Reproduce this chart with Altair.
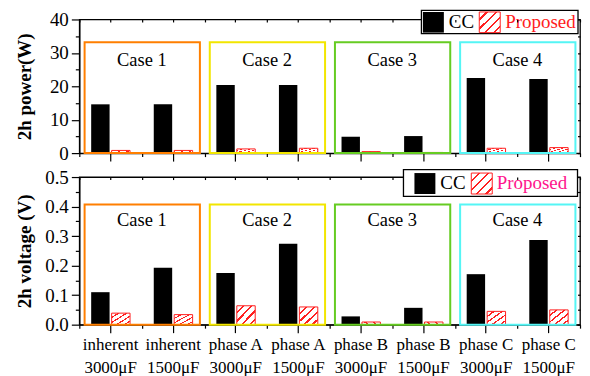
import altair as alt
import pandas as pd

# ---------------- data ----------------
CATEGORIES = ["inherent|3000μF", "inherent|1500μF", "phase A|3000μF", "phase A|1500μF",
              "phase B|3000μF", "phase B|1500μF", "phase C|3000μF", "phase C|1500μF"]
SERIES = ["CC", "Proposed"]
POWER_CC = [14.6, 14.6, 20.4, 20.4, 4.9, 5.1, 22.5, 22.2]
POWER_PROPOSED = [0.8, 0.8, 1.25, 1.45, 0.45, 0.2, 1.45, 1.65]
VOLT_CC = [0.110, 0.193, 0.175, 0.274, 0.028, 0.057, 0.171, 0.287]
VOLT_PROPOSED = [0.039, 0.034, 0.064, 0.060, 0.009, 0.009, 0.045, 0.050]
CASES = ["Case 1", "Case 2", "Case 3", "Case 4"]
CASE_COLORS = ["#ff7f00", "#f2e600", "#66cc22", "#55f5f5"]
POWER_BOX_TOP = 33.2
VOLT_BOX_TOP = 0.407
POWER_LABEL_Y = 27.9
VOLT_LABEL_Y = 0.353
POWER_TICKS = [0, 5, 10, 15, 20, 25, 30, 35, 40]
VOLT_TICKS = [0.0, 0.05, 0.1, 0.15, 0.2, 0.25, 0.3, 0.35, 0.4, 0.45, 0.5]

FONT = "Liberation Serif"
PLOT_W = 502
HATCH = alt.Gradient(
    gradient="linear", x1=0, y1=0, x2=1, y2=1,
    stops=[alt.GradientStop(offset=o, color=c) for o, c in [
        (0.0, "white"), (0.16, "white"), (0.16, "#ff2020"), (0.22, "#ff2020"), (0.22, "white"),
        (0.38, "white"), (0.38, "#ff2020"), (0.44, "#ff2020"), (0.44, "white"),
        (0.60, "white"), (0.60, "#ff2020"), (0.66, "#ff2020"), (0.66, "white"),
        (0.82, "white"), (0.82, "#ff2020"), (0.88, "#ff2020"), (0.88, "white"), (1.0, "white")]]
)

# legend layout (pixels relative to each panel's plot origin)
TOP_LEGEND = dict(box=(343, 500, -9.2, 14.2), sq1=(344.5, 365.5, -7.5, 13.2), t1=(370.5, 2.8),
                  sq2=(401, 422, -7.5, 13.2), t2=(427, 2.8), color="#ff2020")
BOTTOM_LEGEND = dict(box=(325, 499.5, -7.4, 19.3), sq1=(336, 357, -4, 17), t1=(362, 6.3),
                     sq2=(393, 414, -4, 17), t2=(418.5, 6.3), color="#ff148c")


def bar_frame(cc, prop):
    rows = []
    for i, c in enumerate(CATEGORIES):
        rows.append({"category": c, "series": "CC", "value": cc[i]})
        rows.append({"category": c, "series": "Proposed", "value": prop[i]})
    return pd.DataFrame(rows)


def case_frame(top, label_y):
    return pd.DataFrame({
        "case": CASES,
        "start": CATEGORIES[0::2],
        "end": CATEGORIES[1::2],
        "top": [top] * 4,
        "label_y": [label_y] * 4,
    })


XSCALE = alt.Scale(domain=CATEGORIES, paddingInner=0, paddingOuter=0)


def rect_at(r, **mark):
    one = alt.Data(values=[{"k": 1}])
    return alt.Chart(one).mark_rect(**mark).encode(
        x=alt.value(r[0]), x2=alt.value(r[1]), y=alt.value(r[2]), y2=alt.value(r[3]))


def text_at(p, text, color):
    one = alt.Data(values=[{"k": 1}])
    return alt.Chart(one).mark_text(text=text, align="left", baseline="middle", font=FONT,
                                    fontSize=19, color=color).encode(
        x=alt.value(p[0]), y=alt.value(p[1]))


def legend_layers(L):
    return [
        rect_at(L["box"], fill="white", stroke="black", strokeWidth=1.3),
        rect_at(L["sq1"], fill="black"),
        text_at(L["t1"], "CC", "black"),
        rect_at(L["sq2"], fill=HATCH, stroke="#ff2020", strokeWidth=1),
        text_at(L["t2"], "Proposed", L["color"]),
    ]


def panel(cc, prop, ymax, ticks, box_top, label_y, title, show_labels, label_expr,
          minor_test, height, legend):
    bars = bar_frame(cc, prop)
    cases = case_frame(box_top, label_y)
    yscale = alt.Scale(domain=[0, ymax], nice=False, zero=True)
    xoff = alt.XOffset("series:N", scale=alt.Scale(domain=SERIES, paddingInner=0.1, paddingOuter=0.58))

    main_x_axis = alt.Axis(orient="bottom", tickBand="center", tickSize=8, labels=show_labels,
                           labelExpr="split(datum.label, '|')", labelFontSize=17, labelAngle=0,
                           labelLineHeight=23, labelPadding=4, labelBaseline="top",
                           labelOverlap=False, labelLimit=0, title=None, domain=True,
                           domainColor="black", domainWidth=1.3, tickColor="black", tickWidth=1.2)
    y_axis = alt.Axis(orient="left", values=ticks, labelExpr=label_expr, title=title,
                      tickSize={"condition": {"test": minor_test, "value": 4}, "value": 8},
                      tickColor="black", tickWidth=1.2, domainColor="black", domainWidth=1.3,
                      labelFontSize=19, labelPadding=3, titleFontSize=19, titleFontWeight="bold",
                      titleAngle=270, titleAlign="center", titleBaseline="middle",
                      titleX=-55, titleY=height / 2, grid=False)

    cc_bars = alt.Chart(bars).transform_filter(alt.datum.series == "CC").mark_bar(
        color="black").encode(
        x=alt.X("category:N", scale=XSCALE, sort=CATEGORIES, axis=main_x_axis),
        xOffset=xoff,
        y=alt.Y("value:Q", scale=yscale, axis=y_axis),
    )
    prop_bars = alt.Chart(bars).transform_filter(alt.datum.series == "Proposed").mark_bar(
        fill=HATCH, stroke="#ff2020", strokeWidth=1).encode(
        x=alt.X("category:N", scale=XSCALE, sort=CATEGORIES,
                axis=alt.Axis(orient="bottom", tickBand="extent", tickSize=3.5, labels=False,
                              domain=False, title=None, tickColor="black", tickWidth=1.2)),
        xOffset=xoff,
        y=alt.Y("value:Q", scale=yscale,
                axis=alt.Axis(orient="right", values=ticks, labels=False, domain=False,
                              tickSize=2.5, offset=-2.5, title=None, tickColor="black",
                              tickWidth=1.2, grid=False)),
    )
    boxes = alt.Chart(cases).mark_rect(fillOpacity=0, strokeWidth=2, xOffset=5.3,
                                       x2Offset=-4.6).encode(
        x=alt.X("start:N", scale=XSCALE, sort=CATEGORIES, bandPosition=0,
                axis=alt.Axis(orient="top", tickBand="extent", tickSize=2.5, offset=-2.5,
                              labels=False, domain=False, title=None, tickColor="black",
                              tickWidth=1.2)),
        x2=alt.X2("end:N", bandPosition=1),
        y=alt.Y("top:Q", scale=yscale, axis=None),
        y2=alt.datum(0),
        stroke=alt.Stroke("case:N", scale=alt.Scale(domain=CASES, range=CASE_COLORS), legend=None),
    )
    labels = alt.Chart(cases).mark_text(font=FONT, fontSize=18.5, color="black",
                                        baseline="middle", align="center").encode(
        x=alt.X("start:N", scale=XSCALE, sort=CATEGORIES, bandPosition=1,
                axis=alt.Axis(orient="top", tickBand="center", tickSize=2.5, offset=-2.5,
                              labels=False, domain=False, title=None, tickColor="black",
                              tickWidth=1.2)),
        y=alt.Y("label_y:Q", scale=yscale, axis=None),
        text="case:N",
    )
    layers = [cc_bars, prop_bars, boxes, labels] + legend_layers(legend)
    return alt.layer(*layers).resolve_axis(x="independent", y="independent").properties(
        width=PLOT_W, height=height)


top = panel(POWER_CC, POWER_PROPOSED, 40, POWER_TICKS, POWER_BOX_TOP, POWER_LABEL_Y,
            "2h power(W)", False,
            "datum.value % 10 == 0 ? format(datum.value, 'd') : ''",
            "datum.value % 10 != 0", 134, TOP_LEGEND)
bottom = panel(VOLT_CC, VOLT_PROPOSED, 0.5, VOLT_TICKS, VOLT_BOX_TOP, VOLT_LABEL_Y,
               "2h voltage (V)", True,
               "abs(datum.value * 10 - round(datum.value * 10)) < 0.001 ? format(datum.value, '.1f') : ''",
               "abs(datum.value * 10 - round(datum.value * 10)) > 0.001", 148, BOTTOM_LEGEND)

chart = alt.vconcat(top, bottom, spacing=3).properties(
    padding={"left": 6.5, "top": 0, "right": 0, "bottom": 4}
).configure_view(stroke="black", strokeWidth=1.3).configure_axis(
    labelFont=FONT, titleFont=FONT, labelColor="black", titleColor="black"
).configure_text(font=FONT)

chart.save("out.html", embed_options={"renderer": "svg", "actions": False})
